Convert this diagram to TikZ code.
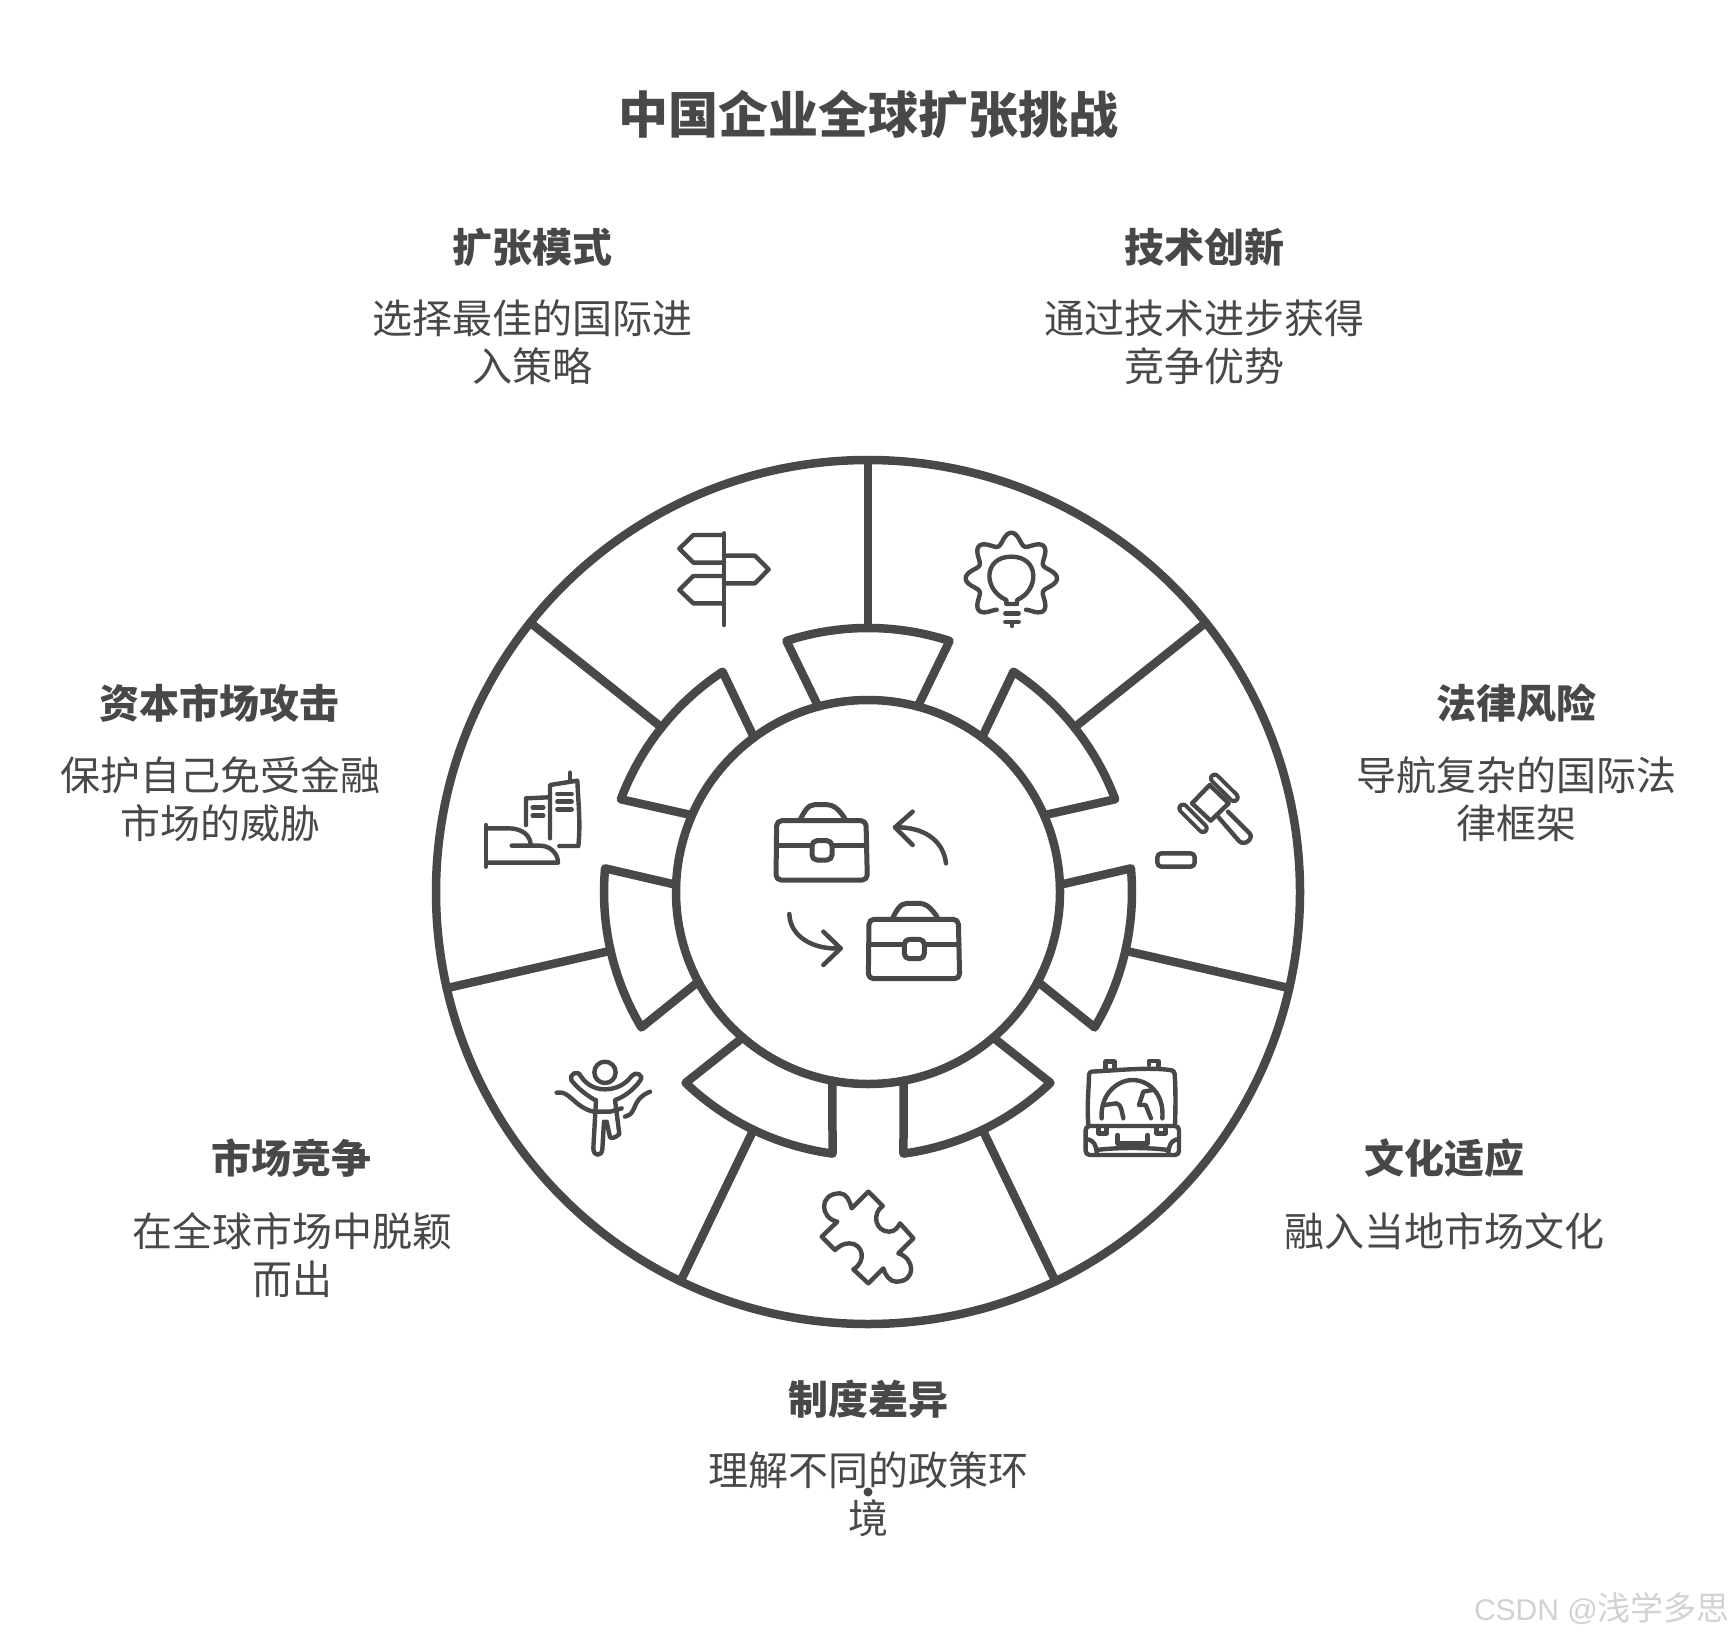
\documentclass[tikz,border=0pt]{standalone}
\usepackage{fontspec}
\setmainfont{Noto Sans CJK SC}
\newfontfamily\latinfont{Liberation Sans}
\definecolor{ink}{HTML}{484848}
\definecolor{wm}{HTML}{D2D2D2}
\tikzset{
  wheel/.style={draw=ink,line width=8.5pt,line join=round,line cap=round},
  ico/.style={draw=ink,line width=4.4pt,line join=round,line cap=round},
  titlebox/.style={text=ink,inner sep=0pt,font=\fontsize{50}{56}\selectfont\bfseries},
  headbox/.style={text=ink,inner sep=0pt,font=\fontsize{40}{48}\selectfont\bfseries},
  bodybox/.style={text=ink,inner sep=0pt,align=center,font=\fontsize{40}{48}\selectfont},
  zoomed/.style={x=0.33333pt,y=-0.33333pt}
}
\begin{document}
\begin{tikzpicture}[x=1pt,y=1pt]
\fill[white] (0,0) rectangle (1736,-1640);
\useasboundingbox (0,0) rectangle (1736,-1640);

% wheel
\begin{scope}[shift={(868,-892)}]
  \foreach \a in {90,38.571,-12.857,-64.286,-115.714,-167.143,141.429}{
    \draw[wheel] (\a-15:192) -- (\a-18:264) arc[start angle=\a-18,end angle=\a+18,radius=264] -- (\a+15:192);
    \draw[wheel] (\a:264) -- (\a:432);
  }
  \draw[wheel] (0,0) circle[radius=432];
  \draw[wheel] (0,0) circle[radius=192];
\end{scope}

% signpost
\begin{scope}[shift={(430,-450)},zoomed]
  \draw[ico] (882,250) -- (882,525);
  \draw[ico] (882,255) -- (790,255) -- (748,296) -- (790,338) -- (882,338);
  \draw[ico] (882,317) -- (975,317) -- (1016,358) -- (975,400) -- (882,400);
  \draw[ico] (882,378) -- (790,378) -- (748,420) -- (790,460) -- (882,460);
  % buildings
  \draw[ico] (168,1125) -- (168,1250);
  \draw[ico] (168,1135) -- (235,1135) .. controls (275,1135) and (300,1155) .. (302,1182);
  \draw[ico] (245,1187) -- (330,1187) .. controls (360,1187) and (384,1210) .. (384,1238) -- (168,1238);
  \draw[ico] (288,1125) -- (288,1045) -- (355,1042);
  \draw[ico] (360,1165) -- (360,1005) -- (442,992) .. controls (445,1060) and (452,1120) .. (445,1188) -- (388,1188);
  \draw[ico] (420,968) -- (420,990);
  \draw[ico] (308,1072) -- (340,1072) (308,1097) -- (340,1097);
  \draw[ico] (382,1032) -- (425,1032) (382,1055) -- (425,1055) (382,1078) -- (425,1078);
\end{scope}

% bulb and gear
\begin{scope}[shift={(868,-450)},zoomed]
  \draw[ico,smooth] plot[domain=-65:245,samples=121] ({430+(120+17*cos(8*\x))*cos(\x)},{385-(120+17*cos(8*\x))*sin(\x)});
  \draw[ico] (415,450) .. controls (345,420) and (345,320) .. (430,320) .. controls (515,320) and (515,420) .. (447,450) -- (447,462) -- (415,462) -- cycle;
  \draw[ico] (412,490) -- (452,490) (412,516) -- (452,516) (432,516) -- (432,528);
  % gavel
  \draw[ico] (1050,1100) -- (1113,1173) .. controls (1130,1190) and (1158,1165) .. (1145,1150) -- (1080,1085);
  \draw[ico,fill=white] (1025,1005) -- (972,1060) -- (1028,1112) -- (1082,1060) -- cycle;
  \draw[ico,line width=4pt,double=white,double distance=3.5pt] (1040,985) -- (1098,1042);
  \draw[ico,line width=4pt,double=white,double distance=3.5pt] (945,1075) -- (1005,1135);
  \draw[ico,rounded corners=4pt] (868,1210) rectangle (980,1250);
\end{scope}

% centre
\begin{scope}[shift={(740,-770)},zoomed]
  \foreach \dx/\dy in {0/0,277/296}{
    \begin{scope}[shift={(\dx,\dy)}]
      \draw[ico,line width=5pt,rounded corners=5pt] (110,152) -- (378,152) -- (382,330) -- (108,330) -- cycle;
      \draw[ico,line width=5pt] (182,146) .. controls (205,100) and (215,104) .. (240,104) .. controls (270,104) and (285,100) .. (315,146);
      \draw[ico,line width=5pt] (112,226) -- (380,226);
      \draw[ico,line width=5pt,rounded corners=5pt,fill=white] (216,212) rectangle (276,270);
    \end{scope}
  }
  \draw[ico,line width=4.5pt] (618,280) .. controls (610,210) and (550,170) .. (465,172);
  \draw[ico,line width=4.5pt] (518,125) -- (465,172) -- (518,225);
  \draw[ico,line width=4.5pt] (148,432) .. controls (150,500) and (220,540) .. (302,535);
  \draw[ico,line width=4.5pt] (250,485) -- (302,535) -- (250,585);
\end{scope}

% puzzle
\begin{scope}[shift={(810,-1180)},zoomed]
  \draw[ico] (175,35) -- (218,78) .. controls (185,100) and (195,155) .. (238,155) .. controls (255,155) and (265,140) .. (270,130) -- (310,175) -- (265,220) .. controls (315,235) and (320,305) .. (258,305) .. controls (240,305) and (225,285) .. (220,265) -- (175,310) -- (130,268) .. controls (170,245) and (160,190) .. (118,190) .. controls (100,190) and (85,200) .. (75,210) -- (35,170) -- (82,125) .. controls (30,115) and (25,40) .. (90,40) .. controls (110,40) and (120,65) .. (125,85) -- cycle;
\end{scope}

% runner
\begin{scope}[shift={(550,-1050)},zoomed]
  \draw[ico] (165,67) circle[radius=32];
  \draw[ico] (135,150) .. controls (100,130) and (80,110) .. (65,92) .. controls (55,70) and (85,60) .. (92,78) .. controls (110,105) and (135,118) .. (165,118) .. controls (195,118) and (225,105) .. (245,78) .. controls (255,62) and (285,75) .. (270,92) .. controls (255,115) and (225,140) .. (195,150) -- (208,252) .. controls (195,265) and (185,265) .. (180,262) -- (170,215);
  \draw[ico] (138,150) -- (130,295) .. controls (130,320) and (155,320) .. (157,298) -- (162,215);
  \draw[ico] (20,128) .. controls (60,120) and (70,170) .. (130,185) -- (180,185) -- (215,175);
  \draw[ico] (225,200) .. controls (265,190) and (240,150) .. (300,125);
\end{scope}

% suitcase
\begin{scope}[shift={(1075,-1050)},zoomed]
  \draw[ico,rounded corners=3pt] (40,222) .. controls (35,170) and (42,110) .. (42,65) .. controls (120,62) and (220,50) .. (298,62) .. controls (302,110) and (302,170) .. (300,222);
  \draw[ico] (92,58) -- (92,35) -- (118,35) -- (118,58);
  \draw[ico] (222,45) -- (222,33) -- (250,33) -- (250,48);
  \draw[ico] (80,205) .. controls (75,130) and (130,90) .. (172,90) .. controls (220,90) and (268,130) .. (262,205);
  \draw[ico] (88,165) -- (125,160) .. controls (140,165) and (140,185) .. (145,205);
  \draw[ico] (232,120) -- (205,125) -- (192,165) -- (212,165) -- (228,205);
  \draw[ico,rounded corners=4pt] (32,228) -- (312,228) -- (312,315) -- (32,315) -- cycle;
  \draw[ico] (70,235) -- (70,250) -- (95,250) -- (95,235);
  \draw[ico] (245,235) -- (245,250) -- (272,250) -- (272,235);
  \draw[ico] (128,255) -- (128,280) -- (218,280) -- (218,255);
  \draw[ico] (40,268) .. controls (55,272) and (65,285) .. (65,312);
  \draw[ico] (305,268) .. controls (290,272) and (280,285) .. (280,312);
  \draw[ico] (65,300) .. controls (120,292) and (225,292) .. (280,300);
\end{scope}

% stray dot
\fill[ink] (868,-1492) circle[radius=4.5];

% texts
\node[titlebox] (title) at (868,-115) {中国企业全球扩张挑战};

\node[headbox] (h1) at (532,-247) {扩张模式};
\node[bodybox] (b1) at (532,-342.5) {选择最佳的国际进\\入策略};
\node[headbox] (h2) at (1204,-247) {技术创新};
\node[bodybox] (b2) at (1204.5,-342.5) {通过技术进步获得\\竞争优势};
\node[headbox] (h3) at (1516,-703) {法律风险};
\node[bodybox] (b3) at (1516,-799) {导航复杂的国际法\\律框架};
\node[headbox] (h4) at (219.5,-703) {资本市场攻击};
\node[bodybox] (b4) at (220,-799) {保护自己免受金融\\市场的威胁};
\node[headbox] (h5) at (291.5,-1158) {市场竞争};
\node[bodybox] (b5) at (292,-1255) {在全球市场中脱颖\\而出};
\node[headbox] (h6) at (1444,-1158) {文化适应};
\node[bodybox] (b6) at (1444,-1231) {融入当地市场文化};
\node[headbox] (h7) at (868,-1399) {制度差异};
\node[bodybox] (b7) at (868,-1494.5) {理解不同的政策环\\境};

\node[anchor=east,inner sep=0pt,text=wm] (mark) at (1730,-1609) {{\latinfont\fontsize{30}{34}\selectfont CSDN @}{\fontsize{33}{34}\selectfont 浅学多思}};
\end{tikzpicture}
\end{document}
